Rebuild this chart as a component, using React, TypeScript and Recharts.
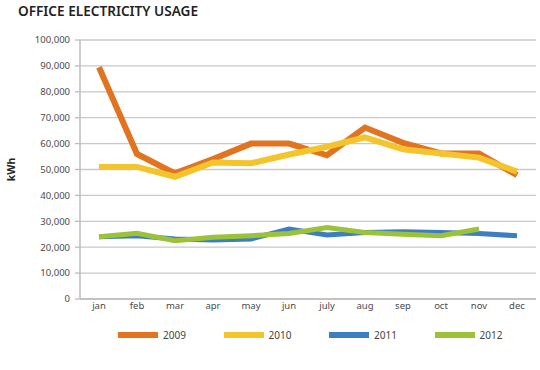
import React from "react";
import { LineChart, Line, XAxis, YAxis, CartesianGrid, Legend } from "recharts";

// monthly office electricity usage, kWh
const months = ["jan", "feb", "mar", "apr", "may", "jun", "july", "aug", "sep", "oct", "nov", "dec"];
const usage2009 = [89500, 56000, 48500, 54000, 60000, 60000, 55500, 66200, 60300, 56200, 56200, 47800];
const usage2010 = [51000, 51000, 47200, 52700, 52400, 55800, 58800, 62400, 57800, 56200, 54600, 49200];
const usage2011 = [24000, 24400, 23200, 22800, 23200, 27000, 24700, 25700, 26000, 25700, 25300, 24400];
const usage2012 = [24000, 25400, 22500, 23800, 24400, 25300, 27600, 25700, 25000, 24400, 27000, null];

const yTicks = [0, 10000, 20000, 30000, 40000, 50000, 60000, 70000, 80000, 90000, 100000];
const bandEdges = [0, 1, 2, 3, 4, 5, 6, 7, 8, 9, 10, 11, 12];

const FONT = "'Noto Sans', 'DejaVu Sans', sans-serif";

const series = [
  { key: "y2009", name: "2009", color: "#E2731F", width: 6 },
  { key: "y2010", name: "2010", color: "#F3C42C", width: 6 },
  { key: "y2011", name: "2011", color: "#3D7EC3", width: 5 },
  { key: "y2012", name: "2012", color: "#9CC23A", width: 5 },
];

const chartData = months.map((month, i) => ({
  month,
  y2009: usage2009[i],
  y2010: usage2010[i],
  y2011: usage2011[i],
  y2012: usage2012[i],
}));

const LegendContent = () => (
  <div style={{ display: "flex", paddingLeft: 118, fontFamily: FONT, fontSize: 10, color: "#444" }}>
    {series.map((s) => (
      <div key={s.key} style={{ width: 106, display: "flex", alignItems: "center" }}>
        <span style={{ display: "inline-block", width: 40, height: 6, background: s.color, marginRight: 5 }} />
        <span>{s.name}</span>
      </div>
    ))}
  </div>
);

const UnitLabel = ({ viewBox }: any) => {
  const cx = viewBox.x + 12;
  const cy = viewBox.y + viewBox.height / 2;
  return (
    <text
      x={cx}
      y={cy}
      transform={`rotate(-90 ${cx} ${cy})`}
      textAnchor="middle"
      dominantBaseline="middle"
      fontFamily={FONT}
      fontSize={10.5}
      fontWeight={700}
      fill="#222"
    >
      kWh
    </text>
  );
};

export default function App() {
  const tickStyle = { fontFamily: FONT, fontSize: 9.5, fill: "#4a4a4a" };
  return (
    <div style={{ position: "absolute", left: 0, top: 0, width: 540, height: 370, background: "#fff" }}>
      <div
        style={{
          position: "absolute",
          left: 18,
          top: 1,
          fontFamily: FONT,
          fontSize: 13.6,
          fontWeight: 600,
          color: "#222",
          whiteSpace: "nowrap",
        }}
      >
        OFFICE ELECTRICITY USAGE
      </div>
      <LineChart width={540} height={370} data={chartData} margin={{ top: 40, right: 4, bottom: 48, left: 0 }}>
        <CartesianGrid vertical={false} stroke="#c9c9c9" strokeWidth={1.3} />
        {/* tick marks sit on the month boundaries, so they get their own axis */}
        <XAxis
          xAxisId="edges"
          type="number"
          domain={[0, 12]}
          ticks={bandEdges}
          tick={false}
          axisLine={false}
          tickLine={{ stroke: "#bdbdbd", strokeWidth: 1.3 }}
          tickSize={6}
          height={1}
        />
        <XAxis
          dataKey="month"
          scale="band"
          tick={tickStyle}
          tickLine={false}
          tickSize={0}
          tickMargin={3}
          axisLine={{ stroke: "#bdbdbd", strokeWidth: 1.3 }}
          height={22}
          interval={0}
        />
        <YAxis
          width={80}
          domain={[0, 100000]}
          ticks={yTicks}
          tickFormatter={(v: number) => v.toLocaleString("en-US")}
          tick={tickStyle}
          tickSize={5}
          tickMargin={5}
          tickLine={{ stroke: "#bdbdbd", strokeWidth: 1.3 }}
          axisLine={{ stroke: "#bdbdbd", strokeWidth: 1.5 }}
          label={<UnitLabel />}
        />
        <Legend
          verticalAlign="middle"
          layout="horizontal"
          content={<LegendContent />}
          wrapperStyle={{ left: 0, top: 328, width: 540 }}
        />
        {series.map((s) => (
          <Line
            key={s.key}
            dataKey={s.key}
            name={s.name}
            type="linear"
            stroke={s.color}
            strokeWidth={s.width}
            dot={false}
            activeDot={false}
            isAnimationActive={false}
          />
        ))}
      </LineChart>
    </div>
  );
}
